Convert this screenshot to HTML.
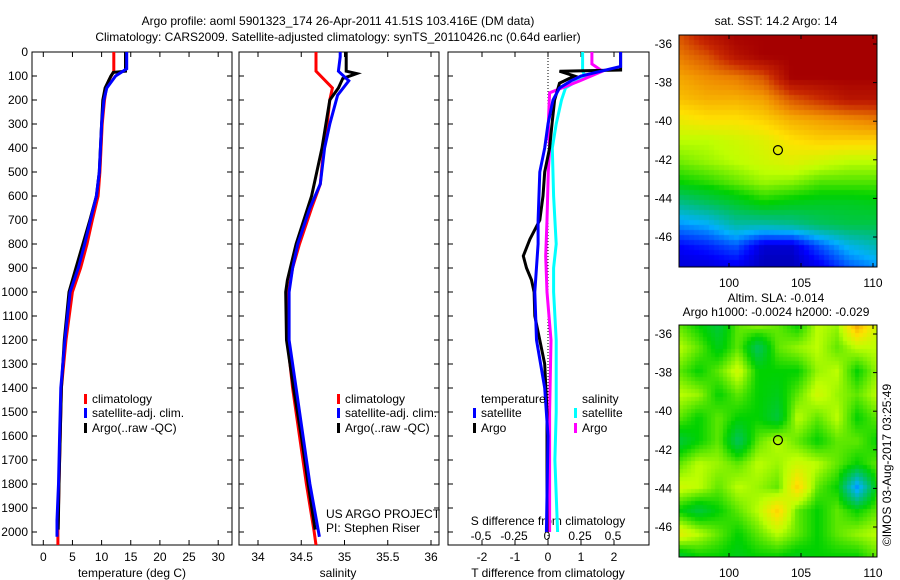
<!DOCTYPE html>
<html><head><meta charset="utf-8"><style>
html,body{margin:0;padding:0;background:#fff;width:900px;height:580px;overflow:hidden}
svg text{font-family:"Liberation Sans",sans-serif;font-size:12px;fill:#000}
canvas{position:absolute}
</style></head><body>
<div style="position:relative;width:900px;height:580px">
<canvas id="sst" width="198" height="232" style="left:679px;top:35px"></canvas>
<canvas id="sla" width="198" height="232" style="left:679px;top:325px"></canvas>
<svg id="svg" width="900" height="580" style="position:absolute;left:0;top:0"></svg>
</div>
<script>
// ---- depth axis
const depthTicks=[0,100,200,300,400,500,600,700,800,900,1000,1100,1200,1300,1400,1500,1600,1700,1800,1900,2000];
// ---- temperature profiles
const tClimDepth=[0,80,120,150,200,300,500,600,700,800,900,1000,1200,1400,1600,1800,2000,2054];
const tClim=[12.1,12.1,11.2,10.8,10.5,10.1,9.7,9.4,8.4,7.5,6.4,5.0,3.9,3.1,2.9,2.7,2.5,2.5];
const tSatDepth=[0,70,100,150,200,300,500,600,700,800,900,1000,1200,1400,1600,1800,1950,2020];
const tSat=[14.3,14.3,12.4,10.9,10.4,10.0,9.6,9.1,8.1,7.1,6.0,4.6,3.7,3.0,2.8,2.6,2.35,2.35];
const tArgoDepth=[0,80,85,100,150,200,300,500,600,700,800,900,1000,1200,1400,1600,1800,1990];
const tArgo=[14.1,14.1,12.0,11.6,10.6,10.2,10.0,9.6,9.1,8.0,6.8,5.6,4.4,3.6,3.1,2.9,2.7,2.55];
// ---- salinity profiles
const sClimDepth=[0,80,150,200,300,400,550,650,800,900,1000,1200,1400,1600,1800,2000,2054];
const sClim=[34.67,34.67,34.86,34.83,34.80,34.76,34.72,34.62,34.48,34.40,34.35,34.34,34.40,34.48,34.56,34.65,34.67];
const sSatDepth=[0,20,80,120,180,300,400,550,650,800,900,1000,1200,1400,1600,1800,2020];
const sSat=[34.95,34.95,34.93,35.05,34.92,34.83,34.77,34.72,34.60,34.46,34.40,34.36,34.36,34.44,34.52,34.60,34.71];
const sArgoDepth=[0,80,90,95,110,150,200,400,600,800,950,1000,1200,1400,1600,1800,1990];
const sArgo=[35.02,35.02,35.14,35.10,34.98,34.93,34.83,34.74,34.62,34.44,34.34,34.32,34.33,34.41,34.50,34.58,34.66];
// ---- difference profiles
const dTSatDepth=[0,60,100,120,150,200,300,400,500,700,800,1000,1200,1400,1600,2000];
const dTSat=[2.2,2.2,1.0,0.7,0.35,0.15,0.0,-0.1,-0.25,-0.3,-0.3,-0.4,-0.35,-0.1,0.0,-0.05];
const dTArgoDepth=[0,75,80,100,130,200,300,400,500,600,700,780,850,900,950,1000,1100,1300,1500,1700,2000];
const dTArgo=[2.2,2.2,0.35,0.8,0.35,0.2,0.12,0.05,-0.1,-0.15,-0.25,-0.55,-0.75,-0.65,-0.5,-0.42,-0.4,-0.1,-0.03,-0.03,-0.03];
const dSSatDepth=[0,80,100,150,200,300,400,600,800,900,1000,1200,1500,1700,2000];
const dSSat=[0.27,0.27,0.29,0.14,0.11,0.07,0.04,0.05,0.07,0.05,0.05,0.07,0.07,0.06,0.08];
const dSArgoDepth=[0,50,80,120,170,300,400,500,700,850,1000,1200,1500,1800,2000];
const dSArgo=[0.34,0.34,0.42,0.25,0.02,0.01,0.02,0.01,0.0,-0.01,0.0,0.03,0.02,0.02,0.02];
// ---- map grids (colormap units 0..1), rows north->south, cols west->east
const sstGrid=[
[0.85,0.95,1,1,1,1,1,1],
[0.8,0.85,0.95,1,1,1,1,1],
[0.75,0.78,0.8,0.85,1,1,1,1],
[0.72,0.74,0.74,0.76,0.85,0.9,0.95,0.95],
[0.66,0.68,0.68,0.7,0.74,0.76,0.78,0.8],
[0.6,0.6,0.62,0.64,0.68,0.7,0.7,0.7],
[0.56,0.58,0.6,0.62,0.64,0.62,0.6,0.6],
[0.5,0.52,0.55,0.58,0.57,0.54,0.54,0.54],
[0.38,0.42,0.46,0.5,0.48,0.47,0.47,0.48],
[0.25,0.28,0.36,0.36,0.38,0.42,0.44,0.44],
[0.12,0.15,0.2,0.08,0.08,0.2,0.3,0.35],
[0.08,0.08,0.1,0.05,0.05,0.1,0.2,0.25]];
const slaGrid=[
[0.55,0.5,0.45,0.55,0.58,0.55,0.5,0.6,0.58,0.75,0.62],
[0.6,0.55,0.48,0.55,0.42,0.55,0.58,0.6,0.55,0.6,0.6],
[0.55,0.5,0.55,0.62,0.5,0.5,0.5,0.58,0.6,0.5,0.58],
[0.6,0.58,0.5,0.55,0.5,0.48,0.55,0.62,0.58,0.55,0.6],
[0.55,0.5,0.55,0.5,0.5,0.45,0.6,0.55,0.6,0.5,0.55],
[0.45,0.5,0.55,0.42,0.55,0.6,0.55,0.5,0.55,0.55,0.5],
[0.55,0.6,0.58,0.55,0.6,0.58,0.62,0.6,0.55,0.5,0.55],
[0.62,0.6,0.55,0.6,0.58,0.55,0.7,0.55,0.5,0.25,0.5],
[0.5,0.45,0.5,0.55,0.6,0.7,0.55,0.5,0.55,0.5,0.55],
[0.65,0.6,0.55,0.5,0.55,0.6,0.55,0.5,0.55,0.58,0.6],
[0.45,0.5,0.5,0.48,0.5,0.5,0.48,0.5,0.5,0.5,0.55]];

const NS='http://www.w3.org/2000/svg';
const svg=document.getElementById('svg');
function el(tag,attrs,parent){const e=document.createElementNS(NS,tag);for(const k in attrs)e.setAttribute(k,attrs[k]);(parent||svg).appendChild(e);return e;}
function txt(x,y,s,anchor,name){const t=el('text',{x:x,y:y,'text-anchor':anchor||'start'});t.textContent=s;


return t;}
const TOP=52,BOT=545;
const yD=d=>TOP+d*0.24;
const xT=v=>43.3+v*5.83;
const xS=v=>258+(v-34)*86.5;
const xDT=v=>548+v*33;
const xDS=v=>547+v*132;

function panel(x0,x1,name){
  const r=el('rect',{x:x0,y:TOP,width:x1-x0,height:BOT-TOP,fill:'none',stroke:'#000','stroke-width':1});
  
  
  depthTicks.forEach(d=>{el('line',{x1:x0,x2:x0+5,y1:yD(d),y2:yD(d),stroke:'#000'});el('line',{x1:x1,x2:x1-5,y1:yD(d),y2:yD(d),stroke:'#000'});});
}
function xticks(vals,fx,x0,x1,labels,name){
  vals.forEach((v,i)=>{const x=fx(v);if(x<x0||x>x1)return;el('line',{x1:x,x2:x,y1:BOT,y2:BOT-5,stroke:'#000'});el('line',{x1:x,x2:x,y1:TOP,y2:TOP+5,stroke:'#000'});
  txt(x,561,labels[i],'middle',name);});
}
function line(ds,vs,fx,color,w,name){
  let p='';ds.forEach((d,i)=>{p+=(i?'L':'M')+fx(vs[i]).toFixed(1)+' '+yD(d).toFixed(1);});
  const e=el('path',{d:p,fill:'none',stroke:color,'stroke-width':w});
  
  
}
// titles
txt(338,25,'Argo profile: aoml 5901323_174 26-Apr-2011 41.51S 103.416E (DM data)','middle','title-line-1');
txt(338,41,'Climatology: CARS2009. Satellite-adjusted climatology: synTS_20110426.nc (0.64d earlier)','middle','title-line-2');
depthTicks.forEach(d=>txt(28,yD(d)+4,String(d),'end','depth-tick-label'));
// panel 1
panel(32,232,'temperature-panel');
const tTickVals=[0,5,10,15,20,25,30];
xticks(tTickVals,xT,32,232,tTickVals.map(String),'temperature-tick-label');
txt(132,577,'temperature (deg C)','middle','temperature-axis-title');
line(tClimDepth,tClim,xT,'#f00',3,'temp-climatology-line');
line(tArgoDepth,tArgo,xT,'#000',3,'temp-argo-line');
line(tSatDepth,tSat,xT,'#00f',3,'temp-satellite-line');
// panel 2
panel(239,439,'salinity-panel');
const sTickVals=[34,34.5,35,35.5,36];
xticks(sTickVals,xS,239,439,sTickVals.map(String),'salinity-tick-label');
txt(338,577,'salinity','middle','salinity-axis-title');
line(sClimDepth,sClim,xS,'#f00',3,'sal-climatology-line');
line(sArgoDepth,sArgo,xS,'#000',3,'sal-argo-line');
line(sSatDepth,sSat,xS,'#00f',3,'sal-satellite-line');
txt(326,518,'US ARGO PROJECT','start','project-label');
txt(326,532,'PI: Stephen Riser','start','pi-label');
// panel 3
panel(448,649,'difference-panel');
const dtVals=[-2,-1,0,1,2];
xticks(dtVals,xDT,448,649,dtVals.map(String),'t-diff-tick-label');
txt(548,577,'T difference from climatology','middle','t-diff-axis-title');
const dsVals=[-0.5,-0.25,0,0.25,0.5];
dsVals.forEach(v=>txt(xDS(v),540,String(v),'middle','s-diff-tick-label'));
txt(548,525,'S difference from climatology','middle','s-diff-axis-title');
el('line',{x1:xDT(0),x2:xDT(0),y1:TOP,y2:BOT,stroke:'#000','stroke-dasharray':'1,2'});
line(dSSatDepth,dSSat,xDS,'#0ff',3,'s-diff-satellite-line');
line(dSArgoDepth,dSArgo,xDS,'#f0f',3,'s-diff-argo-line');
line(dTArgoDepth,dTArgo,xDT,'#000',3,'t-diff-argo-line');
line(dTSatDepth,dTSat,xDT,'#00f',3,'t-diff-satellite-line');
// legends
function leg(x,y,c,s,name){el('rect',{x:x,y:y-9,width:3,height:10,fill:c});txt(x+8,y,s,'start',name);}
leg(84,403,'#f00','climatology','legend-climatology');
leg(84,417,'#00f','satellite-adj. clim.','legend-satellite');
leg(84,432,'#000','Argo(..raw -QC)','legend-argo');
leg(337,403,'#f00','climatology','legend-climatology-2');
leg(337,417,'#00f','satellite-adj. clim.','legend-satellite-2');
leg(337,432,'#000','Argo(..raw -QC)','legend-argo-2');
txt(481,403,'temperature','start','legend-temperature-heading');
leg(473,417,'#00f','satellite','legend-t-satellite');
leg(473,432,'#000','Argo','legend-t-argo');
txt(582,403,'salinity','start','legend-salinity-heading');
leg(574,417,'#0ff','satellite','legend-s-satellite');
leg(574,432,'#f0f','Argo','legend-s-argo');
// maps
const MX0=679,MX1=877;
const lonX=l=>729+(l-100)*14.4;
const latY=(lat,top)=>top+9+(-36-lat)*19.3;
function mapAxes(top,name){
  const r=el('rect',{x:MX0,y:top,width:MX1-MX0,height:232,fill:'none',stroke:'#000'});
  
  
  [100,105,110].forEach(l=>{const x=lonX(l);el('line',{x1:x,x2:x,y1:top,y2:top+4,stroke:'#000'});el('line',{x1:x,x2:x,y1:top+232,y2:top+228,stroke:'#000'});txt(x,top+252,String(l),'middle','lon-tick-label');});
  [-36,-38,-40,-42,-44,-46].forEach(l=>{const y=latY(l,top);el('line',{x1:MX1,x2:MX1-4,y1:y,y2:y,stroke:'#000'});txt(672,y+4,String(l),'end','lat-tick-label');});
  const c=el('circle',{cx:lonX(103.4),cy:latY(-41.5,top),r:4.5,fill:'none',stroke:'#000','stroke-width':1.2});
  
  
}
mapAxes(35,'sst-map-frame');mapAxes(325,'sla-map-frame');
txt(776,25,'sat. SST: 14.2 Argo: 14','middle','sst-map-title');
txt(776,302,'Altim. SLA: -0.014','middle','sla-map-title-1');
txt(776,316,'Argo h1000: -0.0024 h2000: -0.029','middle','sla-map-title-2');
const rt=txt(0,0,'©IMOS 03-Aug-2017 03:25:49','middle','timestamp');
rt.setAttribute('transform','translate(891,465) rotate(-90)');

const cmapStops=[0,0.12,0.28,0.4,0.5,0.6,0.68,0.78,0.9,1];
const cmapCols=[[0,0,128],[0,0,255],[0,176,255],[0,190,120],[0,210,0],[190,255,0],[255,225,0],[240,140,0],[200,40,0],[165,0,0]];
function cmap(v){v=Math.max(0,Math.min(1,v));
 let k=0;while(k<cmapStops.length-2&&v>cmapStops[k+1])k++;
 const t=(v-cmapStops[k])/(cmapStops[k+1]-cmapStops[k]);
 return cmapCols[k].map((c,i)=>Math.round(c+(cmapCols[k+1][i]-c)*t));}
function drawGrid(id,grid,cell){
 const cv=document.getElementById(id),ctx=cv.getContext('2d');
 const R=grid.length,C=grid[0].length;
 for(let y=0;y<232;y+=cell)for(let x=0;x<198;x+=cell){
  const gy=(y+cell/2)/232*(R-1),gx=(x+cell/2)/198*(C-1);
  const i=Math.min(R-2,Math.floor(gy)),j=Math.min(C-2,Math.floor(gx)),fy=gy-i,fx=gx-j;
  const v=grid[i][j]*(1-fx)*(1-fy)+grid[i][j+1]*fx*(1-fy)+grid[i+1][j]*(1-fx)*fy+grid[i+1][j+1]*fx*fy;
  const c=cmap(v);ctx.fillStyle='rgb('+c+')';ctx.fillRect(x,y,cell,cell);}
}
drawGrid('sst',sstGrid,5);
drawGrid('sla',slaGrid,4);
</script>
</body></html>
